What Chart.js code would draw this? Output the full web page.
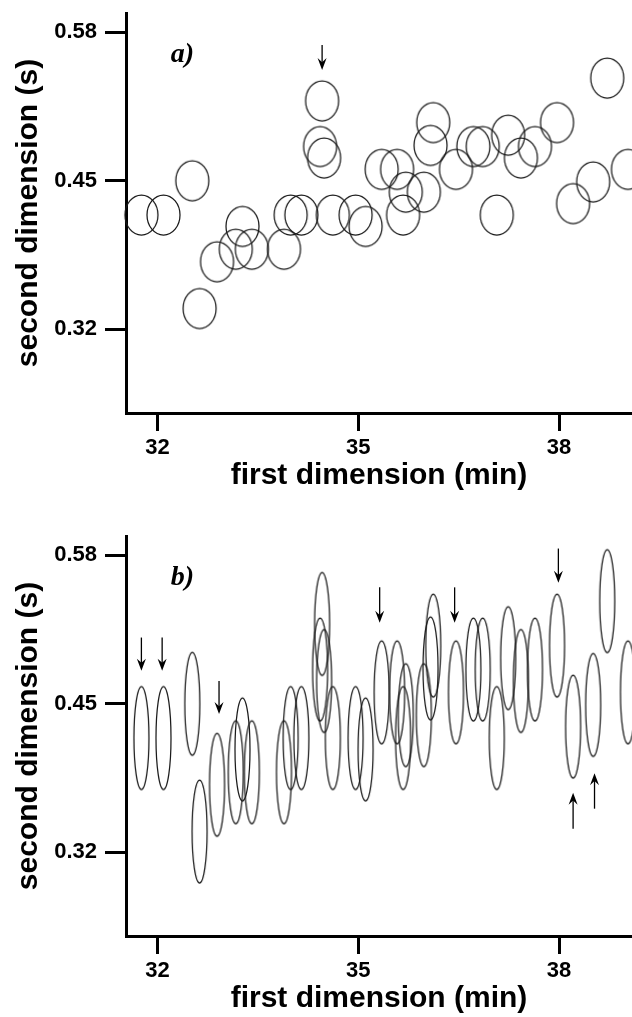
<!DOCTYPE html>
<html>
<head>
<meta charset="utf-8">
<script src="https://cdn.jsdelivr.net/npm/chart.js@4.4.1/dist/chart.umd.min.js"></script>
<style>
  html, body { margin: 0; padding: 0; background: #fff; overflow: hidden; }
  .panel { position: absolute; left: 0; width: 632px; height: 523px; }
</style>
</head>
<body>
<div class="panel" style="top:0"><canvas id="graficoA" width="632" height="523"></canvas></div>
<div class="panel" style="top:523px"><canvas id="graficoB" width="632" height="523"></canvas></div>
<script>
// picos: tiempo 1a dimension (min) y tiempo 2a dimension (s)
const tiempo1 = [31.76, 32.09, 32.52, 32.63, 32.89, 33.17, 33.27, 33.41, 33.89, 33.99, 34.15, 34.43,
  34.46, 34.49, 34.62, 34.96, 35.11, 35.35, 35.58, 35.67, 35.71, 35.98, 36.08, 36.12,
  36.46, 36.72, 36.86, 37.07, 37.24, 37.43, 37.64, 37.97, 38.21, 38.51, 38.72, 39.03];
const tiempo2 = [0.420, 0.420, 0.450, 0.338, 0.379, 0.390, 0.410, 0.390, 0.390, 0.420, 0.420, 0.480,
  0.520, 0.470, 0.420, 0.420, 0.410, 0.460, 0.460, 0.420, 0.440, 0.440, 0.481, 0.501,
  0.460, 0.480, 0.480, 0.420, 0.490, 0.470, 0.480, 0.501, 0.430, 0.449, 0.540, 0.460];
const ticksX = [32, 35, 38];
const ticksY = [0.58, 0.45, 0.32];

// flechas (x, cola, punta) en unidades de los ejes
const flechaAx = [34.46];
const flechaAcola = [0.569];
const flechaApunta = [0.547];
const flechaBx = [31.76, 32.07, 32.92, 35.32, 36.44, 37.99, 38.21, 38.53];
const flechaBcola = [0.508, 0.508, 0.470, 0.552, 0.552, 0.586, 0.3405, 0.358];
const flechaBpunta = [0.479, 0.479, 0.441, 0.521, 0.521, 0.556, 0.372, 0.389];

Chart.defaults.color = "#000";
Chart.defaults.font.family = "'Liberation Sans', Arial, sans-serif";

//marcador elipse dibujado en un canvas aparte
const crearElipse = (w, h) => {
  const c = document.createElement("canvas");
  c.width = w + 4;
  c.height = h + 4;
  const g = c.getContext("2d");
  g.strokeStyle = "#1a1a1a";
  g.lineWidth = 1.25;
  g.beginPath();
  g.ellipse(c.width / 2, c.height / 2, w / 2, h / 2, 0, 0, 2 * Math.PI);
  g.stroke();
  return c;
};

const flecha = (ctx, x, yCola, yPunta) => {
  const dir = Math.sign(yPunta - yCola);
  const largo = 12, ancho = 4.5;
  ctx.strokeStyle = "#000";
  ctx.fillStyle = "#000";
  ctx.lineWidth = 1.3;
  ctx.beginPath();
  ctx.moveTo(x, yCola);
  ctx.lineTo(x, yPunta - dir * largo * 0.6);
  ctx.stroke();
  ctx.beginPath();
  ctx.moveTo(x, yPunta);
  ctx.lineTo(x - ancho, yPunta - dir * largo);
  ctx.lineTo(x, yPunta - dir * largo * 0.65);
  ctx.lineTo(x + ancho, yPunta - dir * largo);
  ctx.closePath();
  ctx.fill();
};

const crearGrafico = (id, marcador, etiqueta, fx, fcola, fpunta) => {
  const anotaciones = {
    id: "anotaciones",
    afterDatasetsDraw(chart) {
      const ctx = chart.ctx;
      const sx = chart.scales.x, sy = chart.scales.y;
      ctx.save();
      fx.forEach((v, i) => {
        flecha(ctx, sx.getPixelForValue(v), sy.getPixelForValue(fcola[i]), sy.getPixelForValue(fpunta[i]));
      });
      ctx.font = "bold italic 28px 'Liberation Serif', 'Times New Roman', serif";
      ctx.textBaseline = "alphabetic";
      ctx.textAlign = "left";
      ctx.fillText(etiqueta, sx.getPixelForValue(32.2), sy.getPixelForValue(0.554));
      ctx.restore();
    }
  };
  return new Chart(document.getElementById(id), {
    type: "scatter",
    data: {
      datasets: [{
        data: tiempo1.map((t, i) => ({ x: t, y: tiempo2[i] })),
        pointStyle: marcador,
        radius: 3,
        clip: false
      }]
    },
    options: {
      responsive: false,
      animation: false,
      layout: { autoPadding: false, padding: { top: 13, left: 0, right: 0, bottom: 0 } },
      plugins: { legend: { display: false }, tooltip: { enabled: false } },
      scales: {
        x: {
          type: "linear",
          min: 31.53,
          max: 39.09,
          afterFit: s => { s.height = 110; s.paddingLeft = 0; s.paddingRight = 0; },
          afterBuildTicks: s => { s.ticks = ticksX.map(v => ({ value: v })); },
          border: { display: true, color: "#000", width: 3 },
          grid: { drawOnChartArea: false, drawTicks: true, tickLength: 18, tickWidth: 3, tickColor: "#000" },
          ticks: { padding: 4, font: { size: 22, weight: "bold" }, maxRotation: 0 },
          title: { display: true, text: "first dimension (min)", font: { size: 30, weight: "bold" }, padding: { top: 0, bottom: 29 } }
        },
        y: {
          type: "linear",
          min: 0.2464,
          max: 0.597,
          afterFit: s => { s.width = 126; s.paddingTop = 0; s.paddingBottom = 0; },
          afterBuildTicks: s => { s.ticks = ticksY.map(v => ({ value: v })); },
          border: { display: true, color: "#000", width: 3 },
          grid: { drawOnChartArea: false, drawTicks: true, tickLength: 21, tickWidth: 3, tickColor: "#000" },
          ticks: { padding: 8, font: { size: 22, weight: "bold" }, callback: v => v.toFixed(2) },
          title: { display: true, text: "second dimension (s)", font: { size: 30, weight: "bold" }, padding: { top: 11, bottom: 0 } }
        }
      }
    },
    plugins: [anotaciones]
  });
};

crearGrafico("graficoA", crearElipse(33, 40), "a)", flechaAx, flechaAcola, flechaApunta);
crearGrafico("graficoB", crearElipse(15, 103), "b)", flechaBx, flechaBcola, flechaBpunta);
</script>
</body>
</html>
